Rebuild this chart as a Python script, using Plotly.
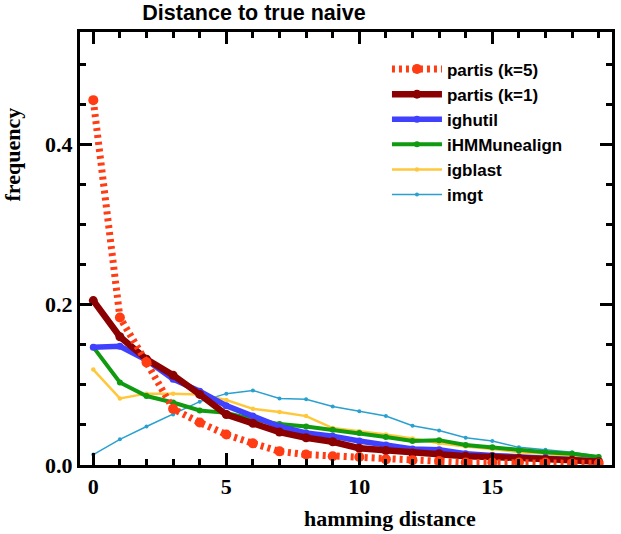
import plotly.graph_objects as go

hamming = list(range(20))
partis_k5 = [0.455, 0.184, 0.128, 0.070, 0.053, 0.038, 0.027, 0.017, 0.013, 0.011,
             0.010, 0.007, 0.006, 0.005, 0.003, 0.003, 0.003, 0.003, 0.002, 0.002]
partis_k1 = [0.205, 0.160, 0.132, 0.112, 0.088, 0.063, 0.052, 0.041, 0.034, 0.029,
             0.021, 0.018, 0.015, 0.014, 0.011, 0.010, 0.008, 0.007, 0.006, 0.004]
ighutil = [0.147, 0.148, 0.131, 0.107, 0.092, 0.074, 0.061, 0.048, 0.040, 0.036,
           0.030, 0.025, 0.020, 0.019, 0.014, 0.012, 0.010, 0.009, 0.007, 0.005]
ihmmunealign = [0.147, 0.103, 0.086, 0.078, 0.068, 0.065, 0.057, 0.051, 0.048, 0.044,
                0.040, 0.035, 0.030, 0.031, 0.025, 0.022, 0.018, 0.016, 0.014, 0.010]
igblast = [0.119, 0.083, 0.089, 0.089, 0.088, 0.081, 0.070, 0.066, 0.061, 0.046,
           0.042, 0.038, 0.033, 0.027, 0.023, 0.020, 0.016, 0.014, 0.011, 0.008]
imgt = [0.013, 0.032, 0.048, 0.063, 0.079, 0.089, 0.093, 0.083, 0.082, 0.073,
        0.067, 0.061, 0.049, 0.043, 0.034, 0.030, 0.022, 0.019, 0.016, 0.011]

series_names = ["partis (k=5)", "partis (k=1)", "ighutil", "iHMMunealign", "igblast", "imgt"]
series_values = [partis_k5, partis_k1, ighutil, ihmmunealign, igblast, imgt]
colors = ["#ff3c14", "#8b0000", "#4040ff", "#109a10", "#ffc83c", "#2aa0d0"]
widths = [7, 6.5, 5.5, 4, 2.5, 1.5]
msizes = [10, 9, 7, 6, 4.5, 4]
dashes = ["3px,4px", "solid", "solid", "solid", "solid", "solid"]

fig = go.Figure()
for i in reversed(range(len(series_names))):
    fig.add_trace(go.Scatter(
        x=hamming, y=series_values[i], name=series_names[i], mode="lines+markers",
        line=dict(color=colors[i], width=widths[i], dash=dashes[i]),
        marker=dict(color=colors[i], size=msizes[i], symbol="circle"),
    ))

tickfont = dict(family="Liberation Serif", size=22, color="black", weight="bold")
axis_common = dict(
    showline=True, linecolor="black", linewidth=3, mirror="ticks",
    ticks="inside", ticklen=12, tickwidth=2.5, tickcolor="black",
    showgrid=False, zeroline=False, tickfont=tickfont,
)

fig.update_xaxes(range=[-0.5, 19.5], tickmode="linear", tick0=0, dtick=5,
                 minor=dict(ticks="inside", ticklen=6, tickwidth=2.5, tickcolor="black",
                            dtick=1, tick0=0, showgrid=False),
                 **axis_common)
fig.update_yaxes(range=[0, 0.54], tickmode="linear", tick0=0, dtick=0.2, tickformat=".1f",
                 minor=dict(ticks="inside", ticklen=6, tickwidth=2.5, tickcolor="black",
                            dtick=0.05, tick0=0, showgrid=False),
                 **axis_common)

fig.update_layout(
    width=621, height=534,
    margin=dict(l=80, r=6, t=32, b=69),
    plot_bgcolor="white", paper_bgcolor="white",
    title=dict(text="Distance to true naive", x=254 / 621, xanchor="center",
               xref="container", y=1 - 12 / 534, yanchor="middle", yref="container",
               font=dict(family="Liberation Sans", size=21.5, color="black", weight="bold")),
    legend=dict(x=0.577, y=0.955, xanchor="left", yanchor="top", traceorder="reversed",
                bgcolor="rgba(0,0,0,0)", itemwidth=50,
                font=dict(family="Liberation Sans", size=17, color="black", weight="bold")),
    showlegend=True,
    annotations=[
        dict(text="frequency", xref="paper", yref="paper", x=-0.127, y=0.718,
             xanchor="center", yanchor="middle", textangle=-90, showarrow=False,
             font=dict(family="Liberation Serif", size=22, color="black", weight="bold")),
        dict(text="hamming distance", xref="paper", yref="paper", x=0.583, y=-0.1247,
             xanchor="center", yanchor="middle", showarrow=False,
             font=dict(family="Liberation Serif", size=22, color="black", weight="bold")),
    ],
)

fig.write_html("out.html", config={"displayModeBar": False},
               post_script="document.body.style.margin='0px';")
